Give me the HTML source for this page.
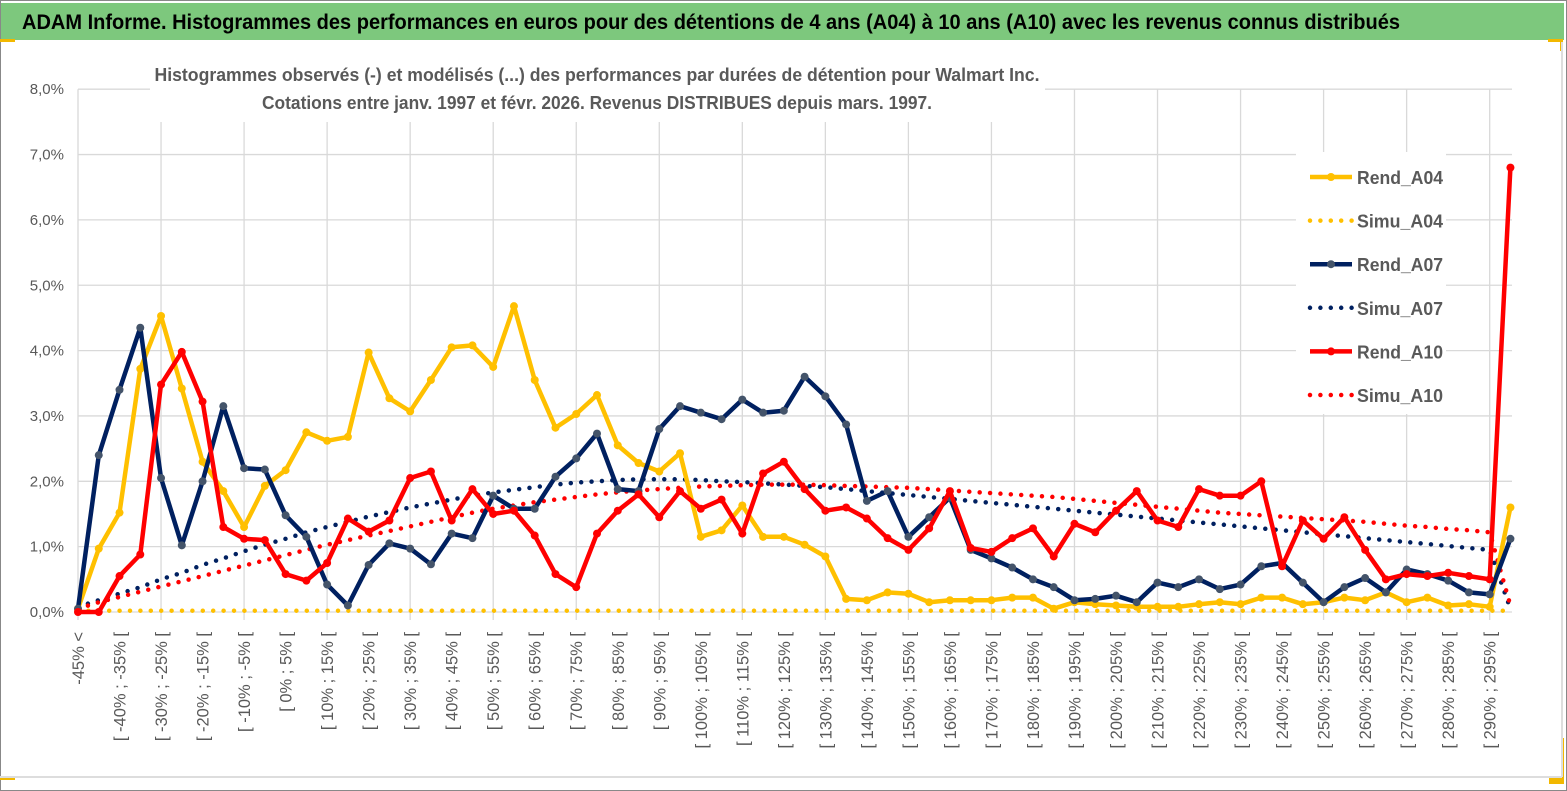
<!DOCTYPE html>
<html><head><meta charset="utf-8"><style>
html,body{margin:0;padding:0;background:#fff;}
svg{display:block;font-family:"Liberation Sans",sans-serif;}
</style></head><body>
<svg id="chart" width="1567" height="791" viewBox="0 0 1567 791" xmlns="http://www.w3.org/2000/svg">
<rect x="0.5" y="0.5" width="1566" height="790" fill="#fff" stroke="#888"/>
<rect x="1" y="3" width="1563" height="37" fill="#7dc87d"/>
<text x="22" y="29" font-size="21" font-weight="bold" fill="#000" textLength="1378" lengthAdjust="spacingAndGlyphs">ADAM Informe. Histogrammes des performances en euros pour des détentions de 4 ans (A04) à 10 ans (A10) avec les revenus connus distribués</text>
<rect x="0" y="39" width="15" height="3" fill="#f2b800"/>
<rect x="1548" y="39" width="15" height="3" fill="#f2b800"/>
<rect x="1560" y="39" width="3" height="12" fill="#f2b800"/>
<rect x="0" y="777" width="15" height="3" fill="#f2b800"/>
<rect x="1549" y="778" width="15" height="6" fill="#f2b800"/>
<rect x="1561" y="738" width="3" height="45" fill="#f2b800"/>
<line x1="0" y1="777" x2="1562" y2="777" stroke="#ddd" stroke-width="2"/>
<line x1="1562" y1="42" x2="1562" y2="777" stroke="#ddd" stroke-width="2"/>
<g id="grid"></g>
<g id="yticks"></g>
<g id="xticks"></g>
<g id="series"></g>
<rect x="150" y="58" width="895" height="64" fill="#fff"/>
<text x="597" y="81" text-anchor="middle" font-size="18" font-weight="bold" fill="#595959" textLength="885" lengthAdjust="spacingAndGlyphs">Histogrammes observés (-) et modélisés (...) des performances par durées de détention pour Walmart Inc.</text>
<text x="597" y="109" text-anchor="middle" font-size="18" font-weight="bold" fill="#595959" textLength="670" lengthAdjust="spacingAndGlyphs">Cotations entre janv. 1997 et févr.  2026. Revenus DISTRIBUES depuis mars. 1997.</text>
<g id="legend"></g>
</svg>
<script>
const categories = ["-45% <"];
for (let v = -45; v < 300; v += 5) categories.push("[ " + v + "% ; " + (v + 5) + "% [");
const yTicks = [0,1,2,3,4,5,6,7,8];
const yTickLabels = ["0,0%","1,0%","2,0%","3,0%","4,0%","5,0%","6,0%","7,0%","8,0%"];
const rendA04 = [0.05,0.97,1.52,3.72,4.53,3.42,2.3,1.85,1.3,1.93,2.17,2.75,2.62,2.68,3.97,3.27,3.07,3.55,4.05,4.08,3.75,4.68,3.55,2.82,3.03,3.32,2.55,2.28,2.15,2.43,1.15,1.25,1.63,1.15,1.15,1.03,0.85,0.2,0.18,0.3,0.28,0.15,0.18,0.18,0.18,0.22,0.22,0.05,0.15,0.12,0.1,0.08,0.08,0.08,0.12,0.15,0.12,0.22,0.22,0.12,0.15,0.22,0.18,0.3,0.15,0.22,0.1,0.12,0.08,1.6];
const simuA04 = new Array(70).fill(0.02);
const rendA07 = [0.05,2.4,3.4,4.35,2.05,1.02,2.0,3.15,2.2,2.18,1.48,1.15,0.42,0.1,0.72,1.05,0.97,0.73,1.2,1.13,1.78,1.58,1.58,2.07,2.35,2.73,1.88,1.85,2.8,3.15,3.05,2.95,3.25,3.05,3.08,3.6,3.3,2.87,1.7,1.85,1.15,1.45,1.75,0.95,0.82,0.68,0.5,0.38,0.18,0.2,0.25,0.15,0.45,0.38,0.5,0.35,0.42,0.7,0.75,0.45,0.15,0.38,0.52,0.3,0.65,0.58,0.48,0.3,0.27,1.12];
const simuA07 = [0.08,0.18,0.28,0.38,0.5,0.6,0.72,0.82,0.93,1.03,1.12,1.22,1.3,1.38,1.46,1.53,1.6,1.66,1.72,1.78,1.83,1.87,1.91,1.95,1.98,2.0,2.02,2.03,2.03,2.03,2.02,2.0,1.99,1.97,1.95,1.93,1.91,1.88,1.85,1.82,1.79,1.76,1.73,1.7,1.67,1.64,1.61,1.58,1.55,1.52,1.49,1.46,1.43,1.4,1.37,1.34,1.31,1.28,1.25,1.22,1.19,1.16,1.13,1.1,1.07,1.04,1.01,0.98,0.95,0.05];
const rendA10 = [0,0,0.55,0.88,3.48,3.98,3.22,1.3,1.12,1.1,0.58,0.48,0.75,1.43,1.23,1.4,2.05,2.15,1.4,1.88,1.5,1.55,1.17,0.58,0.38,1.2,1.55,1.8,1.45,1.85,1.58,1.72,1.2,2.12,2.3,1.88,1.55,1.6,1.43,1.13,0.95,1.28,1.85,0.98,0.92,1.13,1.28,0.85,1.35,1.22,1.55,1.85,1.4,1.3,1.88,1.78,1.78,2.0,0.7,1.4,1.12,1.45,0.95,0.5,0.58,0.55,0.6,0.55,0.5,6.8];
const simuA10 = [0.05,0.15,0.23,0.31,0.39,0.47,0.55,0.63,0.71,0.79,0.87,0.95,1.03,1.1,1.17,1.24,1.31,1.38,1.45,1.52,1.58,1.63,1.68,1.72,1.76,1.8,1.83,1.86,1.88,1.9,1.92,1.93,1.94,1.95,1.95,1.95,1.94,1.93,1.92,1.91,1.9,1.88,1.86,1.84,1.82,1.8,1.78,1.76,1.73,1.7,1.67,1.64,1.61,1.58,1.55,1.52,1.5,1.48,1.46,1.44,1.42,1.4,1.38,1.35,1.32,1.3,1.27,1.25,1.22,0.1];

const NS = "http://www.w3.org/2000/svg";
const X0 = 78, DX = 20.76, Y0 = 612, PPU = 65.35, XR = 1512;
const xs = i => X0 + i * DX;
const ys = v => Y0 - v * PPU;
function mk(tag, attrs, parent) {
  const e = document.createElementNS(NS, tag);
  for (const k in attrs) e.setAttribute(k, attrs[k]);
  parent.appendChild(e);
  return e;
}
const grid = document.getElementById("grid");
yTicks.forEach(t => {
  const l = mk("line", {x1: X0, x2: XR, y1: ys(t), y2: ys(t), stroke: "#d9d9d9", "stroke-width": 1.3}, grid);
  
  
});
for (let i = 0; i < categories.length; i += 4) {
  const l = mk("line", {x1: xs(i), x2: xs(i), y1: ys(8), y2: Y0 + 8, stroke: "#d9d9d9", "stroke-width": 1.3}, grid);
  
  
}
const yg = document.getElementById("yticks");
yTicks.forEach((t, k) => {
  const tx = mk("text", {x: 64, y: ys(t) + 5, "text-anchor": "end", "font-size": 15, fill: "#595959"}, yg);
  tx.textContent = yTickLabels[k];
  
  
});
const xg = document.getElementById("xticks");
for (let i = 0; i < categories.length; i += 2) {
  const x = xs(i) + 6, y = 632;
  const tx = mk("text", {x: x, y: y, "text-anchor": "end", "font-size": 16.5, fill: "#595959", transform: "rotate(-90 " + x + " " + y + ")"}, xg);
  tx.textContent = categories[i];
  
  
}
const sg = document.getElementById("series");
function drawSeries(data, color, dotted, markerColor, name) {
  const pts = data.map((v, i) => xs(i).toFixed(1) + "," + ys(v).toFixed(1)).join(" ");
  const attrs = {points: pts, fill: "none", stroke: color, "stroke-linejoin": "round", "stroke-width": 4.5};
  if (dotted) { attrs["stroke-dasharray"] = "0 10.4"; attrs["stroke-linecap"] = "round"; }
  const pl = mk("polyline", attrs, sg);
  
  
  if (!dotted) {
    data.forEach((v, i) => {
      const c = mk("circle", {cx: xs(i), cy: ys(v), r: 4, fill: markerColor}, sg);
      
      
    });
  }
}
drawSeries(simuA04, "#ffc000", true, "#ffc000", "simu-a04");
drawSeries(simuA07, "#002060", true, "#002060", "simu-a07");
drawSeries(simuA10, "#ff0000", true, "#ff0000", "simu-a10");
drawSeries(rendA04, "#ffc000", false, "#ffc000", "rend-a04");
drawSeries(rendA07, "#002060", false, "#44546a", "rend-a07");
drawSeries(rendA10, "#ff0000", false, "#ff0000", "rend-a10");

const lg = document.getElementById("legend");
const bg = mk("rect", {x: 1296, y: 152, width: 150, height: 262, fill: "#fff"}, lg);


const legendNames = ["Rend_A04","Simu_A04","Rend_A07","Simu_A07","Rend_A10","Simu_A10"];
const legendColors = ["#ffc000","#ffc000","#002060","#002060","#ff0000","#ff0000"];
const legendMarker = ["#ffc000","#ffc000","#44546a","#002060","#ff0000","#ff0000"];
legendNames.forEach((n, k) => {
  const y = 177 + k * 43.6;
  const dotted = n.startsWith("Simu");
  const la = {x1: 1310, x2: 1352, y1: y, y2: y, stroke: legendColors[k], "stroke-width": 4.5};
  if (dotted) { la["stroke-dasharray"] = "0 10.4"; la["stroke-linecap"] = "round"; }
  const l = mk("line", la, lg);
  
  
  if (!dotted) {
    const c = mk("circle", {cx: 1331, cy: y, r: 4, fill: legendMarker[k]}, lg);
    
    
  }
  const t = mk("text", {x: 1357, y: y + 7, "font-size": 18, "font-weight": "bold", fill: "#595959", textLength: 86, lengthAdjust: "spacingAndGlyphs"}, lg);
  t.textContent = n;
  
  
});
</script>
</body></html>
